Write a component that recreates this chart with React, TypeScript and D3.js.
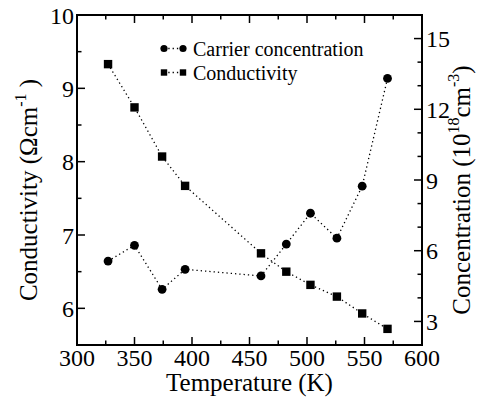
import React from 'react';
import * as d3 from 'd3';

// values
const temperature = [327, 350, 374, 394, 460, 482, 503, 526, 548, 570];
const conductivity = [9.33, 8.74, 8.07, 7.67, 6.75, 6.5, 6.32, 6.16, 5.93, 5.72];
const concentration = [5.56, 6.23, 4.36, 5.21, 4.93, 6.28, 7.59, 6.53, 8.74, 13.31];

const xTicks = [300, 350, 400, 450, 500, 550, 600];
const xMinorTicks = [325, 375, 425, 475, 525, 575];
const leftTicks = [6, 7, 8, 9, 10];
const leftMinorTicks = [6.5, 7.5, 8.5, 9.5];
const rightTicks = [3, 6, 9, 12, 15];
const rightMinorTicks = [4, 5, 7, 8, 10, 11, 13, 14];

const W = 487;
const H = 401;
const left = 77;
const right = 422;
const top = 15;
const bottom = 345;

const App = () => {
  const x = d3.scaleLinear().domain([300, 600]).range([left, right]);
  const yL = d3.scaleLinear().domain([5.5, 10]).range([bottom, top]);
  const yR = d3.scaleLinear().domain([2, 16]).range([bottom, top]);

  const condLine = d3
    .line<number>()
    .x((_, i) => x(temperature[i]))
    .y((d) => yL(d));
  const concLine = d3
    .line<number>()
    .x((_, i) => x(temperature[i]))
    .y((d) => yR(d));

  const dotted = { fill: 'none', stroke: '#000', strokeWidth: 1.3, strokeDasharray: '1.3,3' };
  const ff = { fontFamily: '"Liberation Serif"' };

  return (
    <svg width={W} height={H} style={{ position: 'absolute', left: 0, top: 0 }}>
      {/* series lines */}
      <path d={condLine(conductivity) || ''} {...dotted} />
      <path d={concLine(concentration) || ''} {...dotted} />

      {/* markers */}
      {conductivity.map((v, i) => (
        <rect key={'s' + i} x={x(temperature[i]) - 4.2} y={yL(v) - 4.2} width={8.4} height={8.4} fill="#000" />
      ))}
      {concentration.map((v, i) => (
        <circle key={'c' + i} cx={x(temperature[i])} cy={yR(v)} r={4.4} fill="#000" />
      ))}

      {/* frame */}
      <rect x={left} y={top} width={right - left} height={bottom - top} fill="none" stroke="#000" strokeWidth={2} />

      {/* x ticks, bottom and top */}
      {xTicks.map((t) => (
        <line key={'xb' + t} x1={x(t)} x2={x(t)} y1={bottom} y2={bottom - 8} stroke="#000" strokeWidth={1.5} />
      ))}
      {xTicks.map((t) => (
        <line key={'xtp' + t} x1={x(t)} x2={x(t)} y1={top} y2={top + 8} stroke="#000" strokeWidth={1.5} />
      ))}
      {xMinorTicks.map((t) => (
        <line key={'xmb' + t} x1={x(t)} x2={x(t)} y1={bottom} y2={bottom - 4.5} stroke="#000" strokeWidth={1.5} />
      ))}
      {xMinorTicks.map((t) => (
        <line key={'xmt' + t} x1={x(t)} x2={x(t)} y1={top} y2={top + 4.5} stroke="#000" strokeWidth={1.5} />
      ))}
      {xTicks.map((t) => (
        <text key={'xl' + t} x={x(t)} y={366} fontSize={24} textAnchor="middle" style={ff}>
          {String(t)}
        </text>
      ))}

      {/* left axis */}
      {leftTicks.map((t) => (
        <line key={'yl' + t} x1={left} x2={left + 8} y1={yL(t)} y2={yL(t)} stroke="#000" strokeWidth={1.5} />
      ))}
      {leftMinorTicks.map((t) => (
        <line key={'ylm' + t} x1={left} x2={left + 4.5} y1={yL(t)} y2={yL(t)} stroke="#000" strokeWidth={1.5} />
      ))}
      {leftTicks.map((t) => (
        <text key={'yll' + t} x={left - 3} y={yL(t) + 8.5} fontSize={24} textAnchor="end" style={ff}>
          {String(t)}
        </text>
      ))}

      {/* right axis */}
      {rightTicks.map((t) => (
        <line key={'yr' + t} x1={right} x2={right - 8} y1={yR(t)} y2={yR(t)} stroke="#000" strokeWidth={1.5} />
      ))}
      {rightMinorTicks.map((t) => (
        <line key={'yrm' + t} x1={right} x2={right - 4.5} y1={yR(t)} y2={yR(t)} stroke="#000" strokeWidth={1.5} />
      ))}
      {rightTicks.map((t) => (
        <text key={'yrl' + t} x={right + 4} y={yR(t) + 8.5} fontSize={24} textAnchor="start" style={ff}>
          {String(t)}
        </text>
      ))}

      {/* axis titles */}
      <text x={(left + right) / 2} y={391} fontSize={25} textAnchor="middle" style={ff}>
        Temperature (K)
      </text>
      <text transform="translate(37,190) rotate(-90)" fontSize={25} textAnchor="middle" style={ff}>
        Conductivity (Ωcm
        <tspan fontSize={16} dy={-11}>-1</tspan>
        <tspan dy={11}> )</tspan>
      </text>
      <text transform="translate(470,190) rotate(-90)" fontSize={25} textAnchor="middle" style={ff}>
        Concentration (10
        <tspan fontSize={16} dy={-11}>18</tspan>
        <tspan dy={11}>cm</tspan>
        <tspan fontSize={16} dy={-11}>-3</tspan>
        <tspan dy={11}>)</tspan>
      </text>

      {/* legend */}
      <line x1={164} x2={183} y1={48.5} y2={48.5} {...dotted} />
      <circle cx={164} cy={48.5} r={3.6} fill="#000" />
      <circle cx={183} cy={48.5} r={3.6} fill="#000" />
      <text x={193} y={56} fontSize={20} style={ff}>
        Carrier concentration
      </text>
      <line x1={164} x2={183} y1={72.5} y2={72.5} {...dotted} />
      <rect x={160.8} y={69.3} width={6.4} height={6.4} fill="#000" />
      <rect x={179.8} y={69.3} width={6.4} height={6.4} fill="#000" />
      <text x={193} y={79.5} fontSize={20} style={ff}>
        Conductivity
      </text>
    </svg>
  );
};

export default App;
